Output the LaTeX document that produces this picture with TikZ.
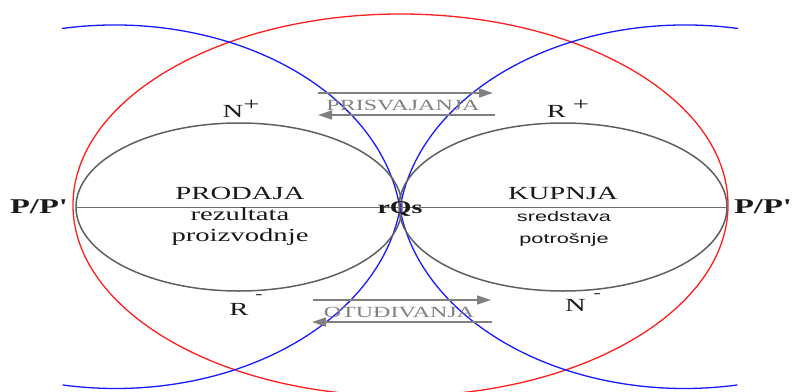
\documentclass[tikz,border=0pt]{standalone}
\usepackage{fontspec}
\usetikzlibrary{arrows.meta,shapes.geometric}
\newfontfamily\wserif{Liberation Serif}[FakeStretch=1.55]
\newfontfamily\wsans{Liberation Sans}[FakeStretch=1.55]
\definecolor{ringred}{RGB}{255,30,30}
\definecolor{ringblue}{RGB}{25,25,255}
\definecolor{ovalgray}{RGB}{95,95,95}
\definecolor{axisgray}{RGB}{110,110,110}
\definecolor{arrgray}{RGB}{128,128,128}
\definecolor{txt}{RGB}{25,25,25}
\begin{document}
\begin{tikzpicture}[x=1pt,y=-1pt,
  oval/.style={ellipse,draw=ovalgray,line width=1.5pt,minimum width=326pt,minimum height=168pt,inner sep=0pt,outer sep=0pt},
  lbl/.style={inner sep=0pt,anchor=base,text=txt,font=\wserif\fontsize{18.5}{20}\selectfont},
  lblsans/.style={inner sep=0pt,anchor=base,text=txt,font=\wsans\fontsize{14}{16}\selectfont},
  pmark/.style={inner sep=0pt,anchor=base,text=txt,font=\wserif\bfseries\fontsize{21}{22}\selectfont},
  flowtxt/.style={inner sep=0pt,anchor=base,text=arrgray,font=\wserif\fontsize{15.5}{16}\selectfont},
  flow/.style={draw=arrgray,line width=1.4pt,-{Triangle[length=14pt,width=9pt]}},
  ring/.style={line width=1.3pt}
]
\useasboundingbox (0,0) rectangle (792,391);
\clip (0,0) rectangle (792,391);
% big red ellipse
\draw[ring,ringred] (400.5,205) ellipse [x radius=327.5, y radius=191];
% blue S-curves
\draw[ring,ringblue] (62,28.5) arc[start angle=-100.6, end angle=-7, x radius=287, y radius=207]
                              arc[start angle=173, end angle=79.4, x radius=287, y radius=207];
\draw[ring,ringblue] (738,28.5) arc[start angle=-79.4, end angle=-173, x radius=287, y radius=207]
                               arc[start angle=7, end angle=100.6, x radius=287, y radius=207];
% gray ovals
\node[oval] (L) at (239,207) {};
\node[oval,minimum width=328pt] (R) at (563,207) {};
\draw[axisgray,line width=1pt] (L.west) -- (R.east);
% texts inside ovals
\node[lbl] (prodaja) at (240,199) {PRODAJA};
\node[lbl] (rez) at (240,220) {rezultata};
\node[lbl] (proiz) at (240,241) {proizvodnje};
\node[lbl] (kupnja) at (563,199) {KUPNJA};
\node[lblsans] (sred) at (564,221) {sredstava};
\node[lblsans] (potr) at (564,243) {potrošnje};
\node[pmark,font=\wserif\bfseries\fontsize{18}{20}\selectfont] (rqs) at (400,213) {rQs};
% P/P'
\node[pmark] (pl) at (39,213) {P/P'};
\node[pmark] (pr) at (763,213) {P/P'};
% N+ R+ R- N-
\node[lbl] (np) at (241,117) {N\raisebox{7pt}{+}};
\node[lbl] (rp) at (568,117) {R\hspace{7pt}\raisebox{7pt}{+}};
\node[lbl] (rm) at (246,315) {R\hspace{7pt}\raisebox{17pt}{\fontsize{14}{14}\selectfont -}};
\node[lbl] (nm) at (583,311) {N\hspace{8pt}\raisebox{14pt}{\fontsize{14}{14}\selectfont -}};
% exchange arrows
\node[flowtxt] (pris) at (403,110) {PRISVAJANJA};
\coordinate (pa1) at (318,93);
\coordinate (pa2) at (493,93);
\coordinate (pb1) at (495,115);
\coordinate (pb2) at (318,115);
\draw[flow] (pa1) -- (pa2);
\draw[flow] (pb1) -- (pb2);
\node[flowtxt] (otu) at (399,317) {OTUĐIVANJA};
\coordinate (oa1) at (313,300);
\coordinate (oa2) at (491,300);
\coordinate (ob1) at (492,322);
\coordinate (ob2) at (312,322);
\draw[flow] (oa1) -- (oa2);
\draw[flow] (ob1) -- (ob2);
\end{tikzpicture}
\end{document}
